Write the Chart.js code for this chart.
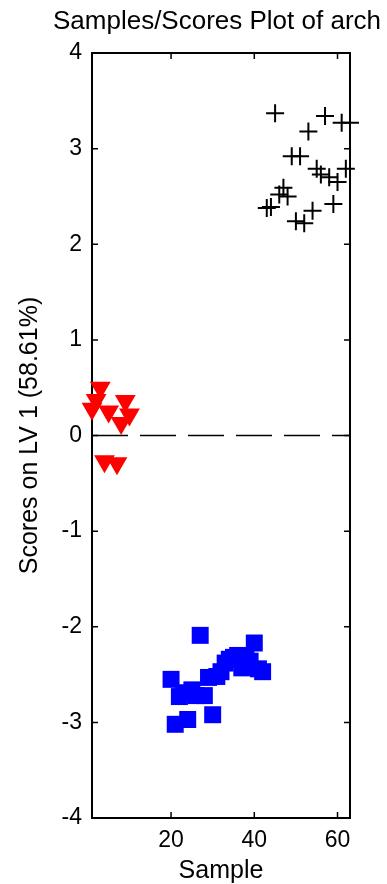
<!DOCTYPE html>
<html>
<head>
<meta charset="utf-8">
<script src="https://cdn.jsdelivr.net/npm/chart.js@4.4.0/dist/chart.umd.min.js"></script>
<style>
  html, body { margin: 0; padding: 0; background: #fff; }
  #wrap { width: 387px; height: 884px; position: relative; }
</style>
</head>
<body>
<div id="wrap"><canvas id="scoresChart"></canvas></div>
<script>
// labels
const titleText = 'Samples/Scores Plot of arch';
const xLabel = 'Sample';
const yLabel = 'Scores on LV 1 (58.61%)';

// axes
const xLimits = [1, 63];
const yLimits = [-4, 4];
const xTickValues = [20, 40, 60];

// class 1 (red triangles)
const redSamples = [1, 2, 3, 4, 5, 7, 8, 9, 10];
const redScores = [0.28, 0.37, 0.50, -0.27, 0.25, -0.29, 0.13, 0.36, 0.22];

// class 2 (blue squares)
const blueSamples = [20, 21, 22, 23, 24, 25, 26, 27, 28, 29, 30, 31, 32, 33, 34, 35, 36, 37, 38, 39, 40, 41, 42];
const blueScores = [-2.55, -3.02, -2.73, -2.69, -2.97, -2.66, -2.72, -2.09, -2.72, -2.53, -2.92, -2.52,
                    -2.47, -2.38, -2.34, -2.32, -2.30, -2.43, -2.33, -2.36, -2.17, -2.44, -2.47];

// class 3 (black crosses)
const blackSamples = [43, 44, 45, 46, 47, 48, 49, 50, 51, 52, 53, 54, 55, 56, 57, 58, 59, 60, 61, 62, 63];
const blackScores = [2.38, 2.39, 3.37, 2.52, 2.59, 2.50, 2.92, 2.24, 2.92, 2.22, 3.18, 2.35,
                     2.79, 2.73, 3.34, 2.70, 2.42, 2.65, 3.27, 2.79, 3.27];

const toPoints = (xs, ys) => xs.map((v, i) => ({ x: v, y: ys[i] }));

Chart.defaults.font.family = '"Liberation Sans", Arial, sans-serif';
Chart.defaults.color = '#000';

// box + inward ticks, matlab style
const matlabFrame = {
    id: 'matlabFrame',
    beforeDatasetsDraw(chart) {
        const { ctx, chartArea: a, scales: { x, y } } = chart;
        ctx.save();
        ctx.strokeStyle = '#000';
        ctx.lineWidth = 2;
        ctx.strokeRect(a.left, a.top, a.right - a.left, a.bottom - a.top);
        ctx.lineWidth = 1.5;
        ctx.beginPath();
        x.ticks.forEach(t => {
            const px = x.getPixelForValue(t.value);
            ctx.moveTo(px, a.bottom); ctx.lineTo(px, a.bottom - 6);
            ctx.moveTo(px, a.top); ctx.lineTo(px, a.top + 6);
        });
        y.ticks.forEach(t => {
            const py = y.getPixelForValue(t.value);
            ctx.moveTo(a.left, py); ctx.lineTo(a.left + 6, py);
            ctx.moveTo(a.right, py); ctx.lineTo(a.right - 6, py);
        });
        ctx.stroke();
        ctx.restore();
    },
    afterDraw(chart) {
        const { ctx, chartArea: a } = chart;
        ctx.save();
        ctx.fillStyle = '#000';
        ctx.font = '26px "Liberation Sans", Arial, sans-serif';
        ctx.textAlign = 'center';
        ctx.textBaseline = 'alphabetic';
        ctx.fillText(titleText, (a.left + a.right) / 2 - 4, 29);
        ctx.restore();
    }
};

new Chart(document.getElementById('scoresChart'), {
    type: 'scatter',
    plugins: [matlabFrame],
    data: {
        datasets: [
            {
                // zero reference line
                data: toPoints(xLimits, [0, 0]),
                showLine: true,
                borderColor: '#000',
                borderWidth: 1.5,
                borderDash: [36, 12],
                pointRadius: 0
            },
            {
                data: toPoints(blackSamples, blackScores),
                pointStyle: 'cross',
                pointRadius: 9,
                borderColor: '#000',
                pointBorderWidth: 2,
                clip: false
            },
            {
                data: toPoints(blueSamples, blueScores),
                pointStyle: 'rect',
                pointRadius: 12,
                backgroundColor: '#0000ff',
                borderColor: '#0000ff',
                pointBorderWidth: 0,
                clip: false
            },
            {
                data: toPoints(redSamples, redScores),
                pointStyle: 'triangle',
                pointRotation: 180,
                pointRadius: 12,
                backgroundColor: '#ff0000',
                borderColor: '#ff0000',
                pointBorderWidth: 0,
                clip: false
            }
        ]
    },
    options: {
        responsive: true,
        maintainAspectRatio: false,
        animation: false,
        events: [],
        layout: { padding: { top: 53, right: 37, left: 0, bottom: 0 } },
        plugins: {
            legend: { display: false },
            tooltip: { enabled: false }
        },
        scales: {
            x: {
                type: 'linear',
                min: xLimits[0],
                max: xLimits[1],
                afterBuildTicks: scale => { scale.ticks = xTickValues.map(v => ({ value: v })); },
                afterFit: scale => { scale.height = 66; },
                grid: { display: false, drawTicks: false },
                border: { display: false },
                ticks: { font: { size: 23 }, padding: 9, maxRotation: 0 },
                title: { display: true, text: xLabel, font: { size: 25, lineHeight: 1 }, padding: 0 }
            },
            y: {
                type: 'linear',
                min: yLimits[0],
                max: yLimits[1],
                afterFit: scale => { scale.width = 92; },
                grid: { display: false, drawTicks: false },
                border: { display: false },
                ticks: { stepSize: 1, font: { size: 23 }, padding: 10 },
                title: { display: true, text: yLabel, font: { size: 25, lineHeight: 1 }, padding: { top: 18, bottom: 0 } }
            }
        }
    }
});
</script>
</body>
</html>
